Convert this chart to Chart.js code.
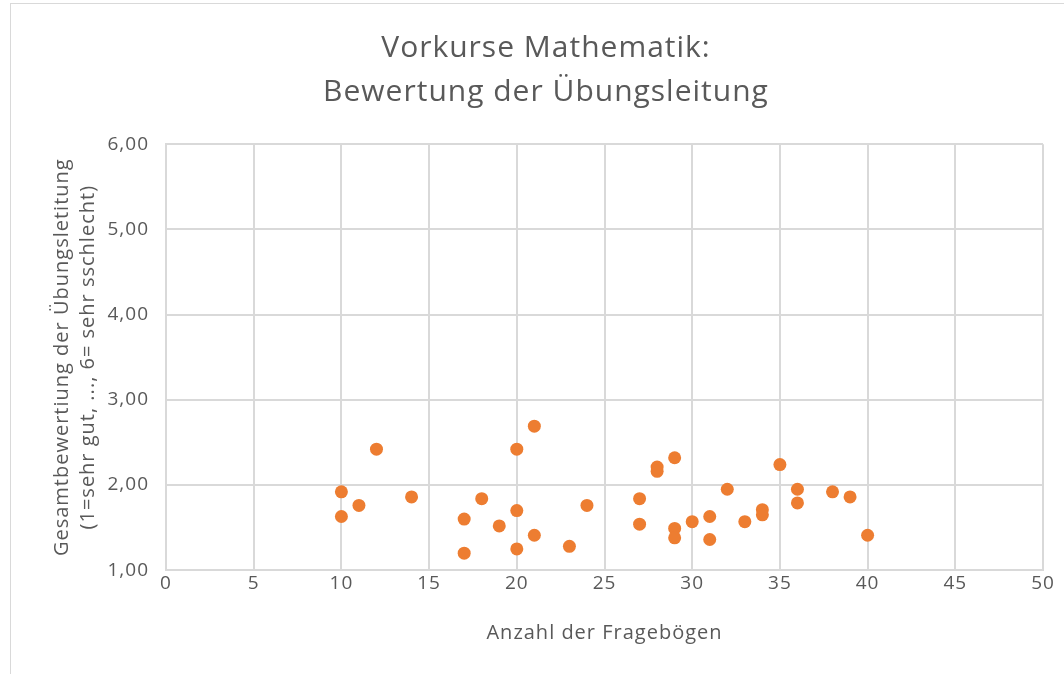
<!DOCTYPE html>
<html>
<head>
<meta charset="utf-8">
<script src="https://cdn.jsdelivr.net/npm/chart.js@4/dist/chart.umd.min.js"></script>
<style>
  html, body { margin: 0; padding: 0; background: #fff; overflow: hidden; }
  #frame {
    position: absolute; left: 10px; top: 3px; width: 1070px; height: 690px;
    border: 1.5px solid #d9d9d9; box-sizing: border-box;
  }
  #wrap { position: absolute; left: 0; top: 0; width: 1064px; height: 674px; }
</style>
</head>
<body>
<div id="frame"></div>
<div id="wrap"><canvas id="chart" width="1064" height="674"></canvas></div>
<script>
// Anzahl der Fragebögen je Kurs
const anzahl = [10, 10, 11, 12, 14, 17, 17, 18, 19, 20, 20, 20, 21, 21, 23, 24, 27, 27,
  28, 28, 29, 29, 29, 30, 31, 31, 32, 33, 34, 34, 35, 36, 36, 38, 39, 40];
// Gesamtbewertung (1 = sehr gut ... 6 = sehr schlecht)
const bewertung = [1.92, 1.63, 1.76, 2.42, 1.86, 1.60, 1.20, 1.84, 1.52, 2.42, 1.70, 1.25,
  2.69, 1.41, 1.28, 1.76, 1.84, 1.54, 2.21, 2.16, 2.32, 1.49, 1.38, 1.57, 1.63, 1.36,
  1.95, 1.57, 1.71, 1.65, 2.24, 1.95, 1.79, 1.92, 1.86, 1.41];

const xTicks = [0, 5, 10, 15, 20, 25, 30, 35, 40, 45, 50];
const yTicks = [1, 2, 3, 4, 5, 6];

const textColor = "#595959";
const gridColor = "#d9d9d9";
const fontFamily = "'Open Sans', sans-serif";

const points = anzahl.map((x, i) => ({ x: x, y: bewertung[i] }));

// the original uses a widely tracked font, so space the letters a bit
const spacing = {
  id: "spacing",
  beforeLayout: (chart) => { chart.ctx.letterSpacing = "1px"; },
  beforeDraw: (chart) => { chart.ctx.letterSpacing = "1px"; }
};

new Chart(document.getElementById("chart"), {
  type: "scatter",
  data: {
    datasets: [
      {
        data: points,
        backgroundColor: "#ed7d31",
        borderColor: "#ed7d31",
        pointRadius: 6.5,
        pointHoverRadius: 6.5,
        borderWidth: 0
      }
    ]
  },
  plugins: [spacing],
  options: {
    responsive: false,
    animation: false,
    layout: { padding: { left: 49, right: 21, top: 0, bottom: 29 } },
    plugins: {
      legend: { display: false },
      tooltip: { enabled: false },
      title: {
        display: true,
        text: ["Vorkurse Mathematik:", "Bewertung der Übungsleitung"],
        color: textColor,
        font: { family: fontFamily, size: 30, weight: "normal", lineHeight: 1.47 },
        padding: { top: 26, bottom: 30 }
      }
    },
    scales: {
      x: {
        type: "linear",
        min: 0,
        max: 50,
        afterBuildTicks: (scale) => { scale.ticks = xTicks.map(v => ({ value: v })); },
        ticks: {
          color: textColor,
          font: { family: fontFamily, size: 19 },
          padding: 2
        },
        grid: { color: gridColor, lineWidth: 2, drawTicks: false },
        border: { color: gridColor, width: 2 },
        title: {
          display: true,
          text: "Anzahl der Fragebögen",
          color: textColor,
          font: { family: fontFamily, size: 20 },
          padding: { top: 24, bottom: 0 }
        }
      },
      y: {
        type: "linear",
        min: 1,
        max: 6,
        afterBuildTicks: (scale) => { scale.ticks = yTicks.map(v => ({ value: v })); },
        afterFit: (scale) => { scale.width = 117; },
        ticks: {
          color: textColor,
          font: { family: fontFamily, size: 19 },
          padding: 17,
          callback: (v) => v.toFixed(2).replace(".", ",")
        },
        grid: { color: gridColor, lineWidth: 2, drawTicks: false },
        border: { color: gridColor, width: 2 },
        title: {
          display: true,
          text: ["Gesamtbewertiung der Übungsletitung", "(1=sehr gut, ..., 6= sehr sschlecht)"],
          color: textColor,
          font: { family: fontFamily, size: 20, lineHeight: 1.3 },
          padding: 0
        }
      }
    }
  }
});
</script>
</body>
</html>
